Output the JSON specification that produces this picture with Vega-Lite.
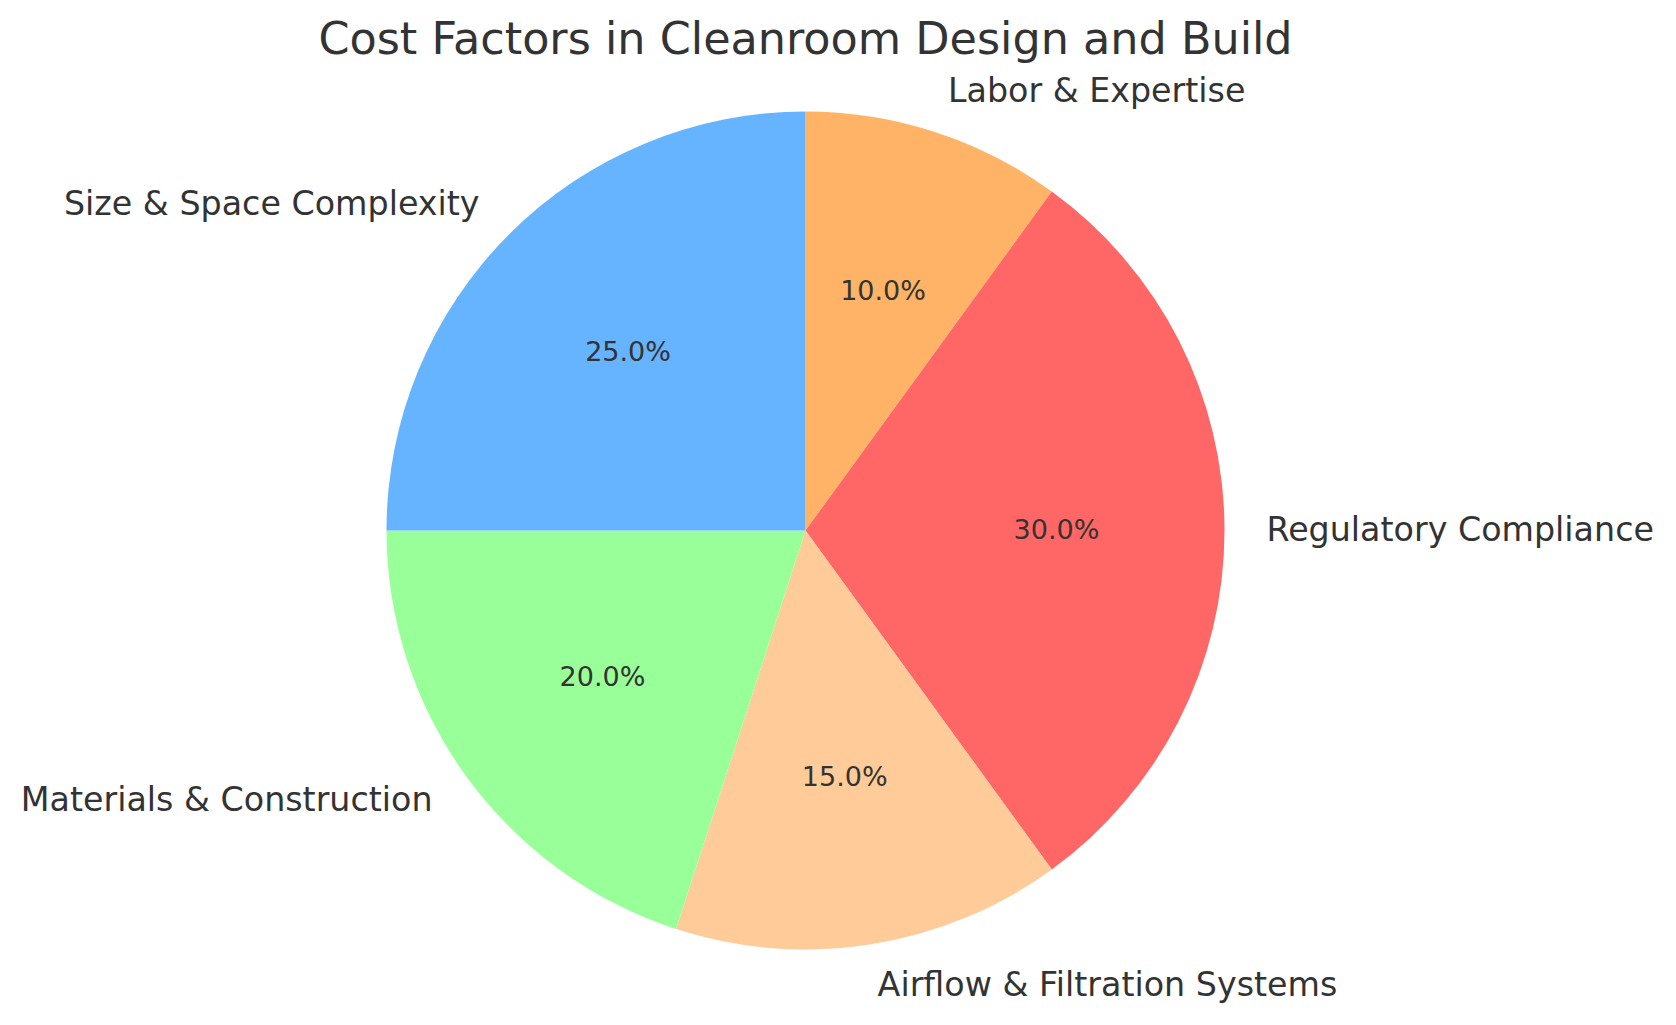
{
  "$schema": "https://vega.github.io/schema/vega-lite/v6.json",
  "autosize": "none",
  "width": 1611,
  "height": 861,
  "padding": {"left": 0, "top": 100, "right": 65, "bottom": 64},
  "background": "white",
  "config": {"view": {"stroke": null}, "font": "DejaVu Sans"},
  "title": {
    "text": "Cost Factors in Cleanroom Design and Build",
    "fontSize": 44.5,
    "font": "DejaVu Sans",
    "fontWeight": "normal",
    "color": "#333333",
    "anchor": "middle",
    "baseline": "alphabetic",
    "offset": -23
  },
  "data": {
    "values": [
      {"category": "Labor & Expertise", "share": 0.10, "order": 1},
      {"category": "Regulatory Compliance", "share": 0.30, "order": 2},
      {"category": "Airflow & Filtration Systems", "share": 0.15, "order": 3},
      {"category": "Materials & Construction", "share": 0.20, "order": 4},
      {"category": "Size & Space Complexity", "share": 0.25, "order": 5}
    ]
  },
  "encoding": {
    "theta": {"field": "share", "type": "quantitative", "stack": true},
    "order": {"field": "order", "type": "quantitative", "sort": "ascending"}
  },
  "layer": [
    {
      "mark": {"type": "arc", "outerRadius": 419},
      "encoding": {
        "color": {
          "field": "category",
          "type": "nominal",
          "legend": null,
          "scale": {
            "domain": ["Size & Space Complexity", "Materials & Construction", "Airflow & Filtration Systems", "Regulatory Compliance", "Labor & Expertise"],
            "range": ["#66b3ff", "#99ff99", "#ffcc99", "#ff6666", "#ffb366"]
          }
        }
      }
    },
    {
      "mark": {"type": "text", "radius": 251, "fontSize": 27, "font": "DejaVu Sans", "color": "#333333", "align": "center", "baseline": "middle"},
      "encoding": {
        "text": {"field": "share", "type": "quantitative", "format": ".1%"}
      }
    },
    {
      "mark": {
        "type": "text",
        "radius": 461,
        "fontSize": 33.3,
        "font": "DejaVu Sans",
        "color": "#333333",
        "baseline": "middle",
        "align": {"expr": "(datum.share_start + datum.share_end) / 2 < 0.5 ? 'left' : 'right'"}
      },
      "encoding": {
        "text": {"field": "category", "type": "nominal"}
      }
    }
  ]
}
